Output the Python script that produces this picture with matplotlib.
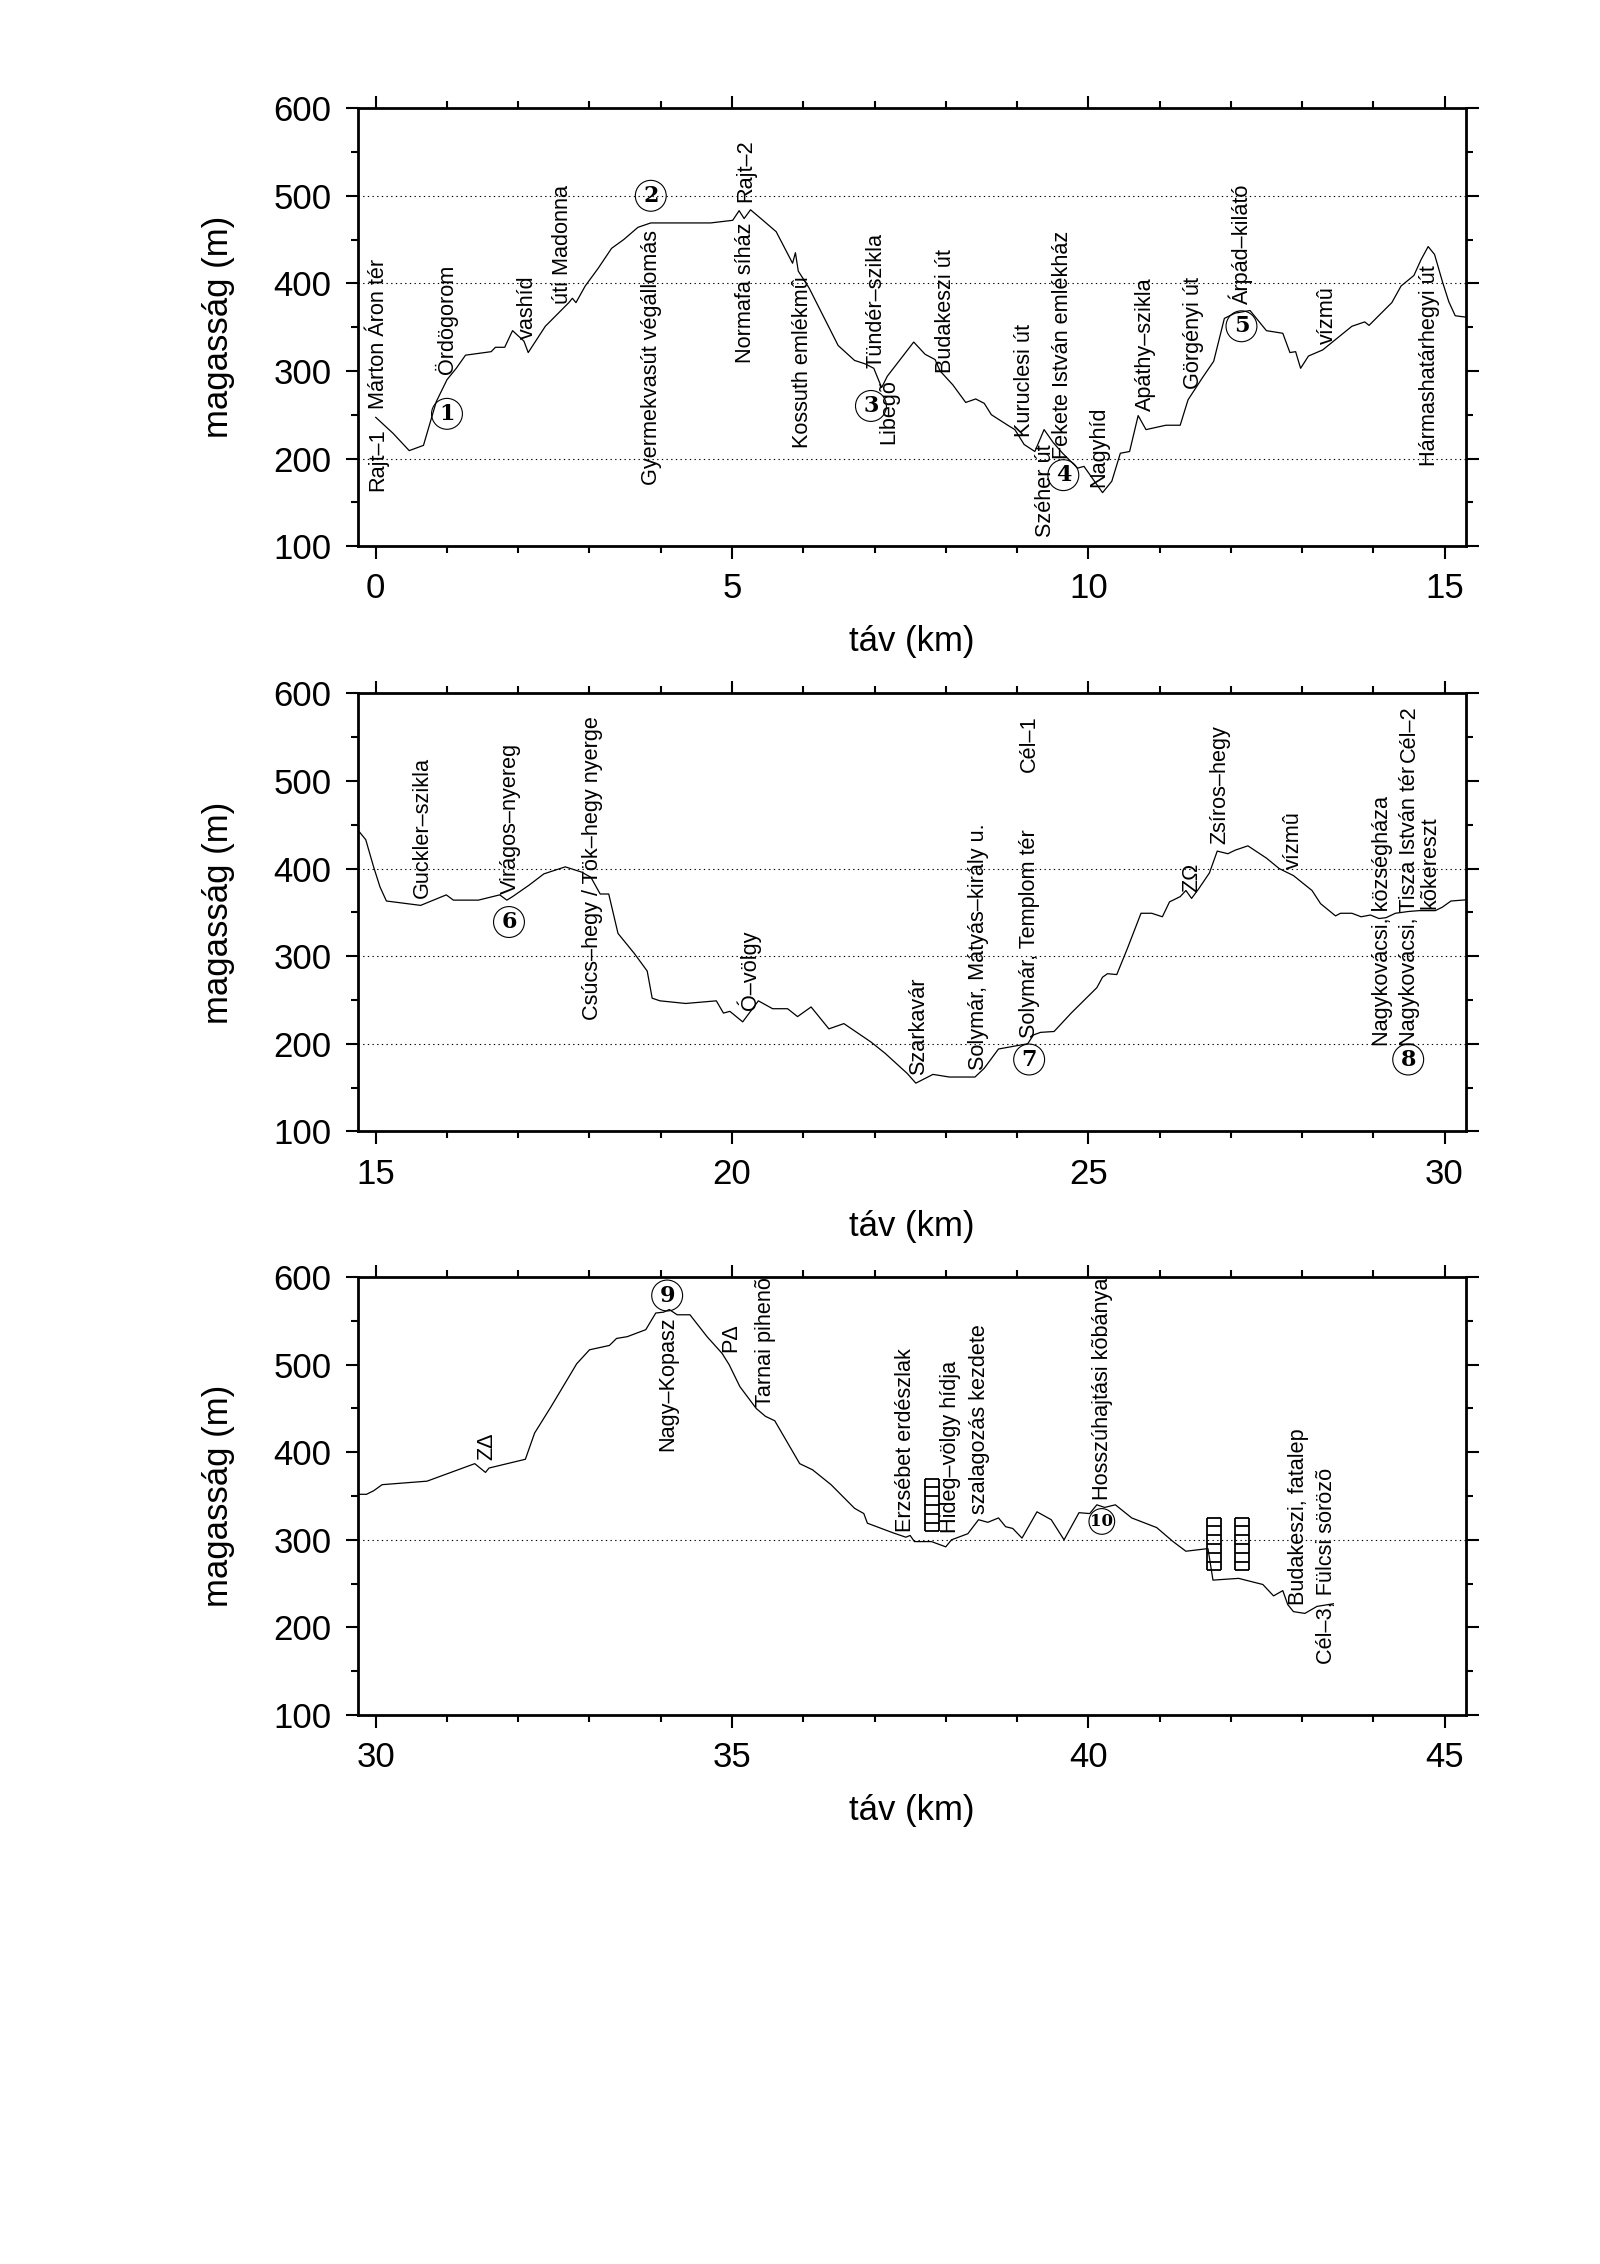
import numpy as np
import matplotlib
matplotlib.use('Agg')
import matplotlib.pyplot as plt
from matplotlib.path import Path
from matplotlib.ticker import MultipleLocator

plt.rcParams['font.family'] = ['Liberation Sans', 'DejaVu Sans']

# tav (km) / magassag (m) - the whole route, each panel shows a 15 km slice
dist = [0.00, 0.24, 0.47, 0.67, 0.85, 1.00, 1.13, 1.26, 1.62, 1.68, 1.81, 1.92, 2.08, 2.14,
        2.38, 2.71, 2.76, 2.81, 2.94, 3.12, 3.31, 3.48, 3.68, 3.86, 4.70, 5.01, 5.10, 5.17,
        5.26, 5.42, 5.62, 5.85, 5.89, 5.93, 6.08, 6.26, 6.49, 6.72, 6.87, 6.99, 7.10, 7.18,
        7.55, 7.71, 7.85, 7.92, 8.10, 8.28, 8.42, 8.54, 8.64, 8.87, 8.97, 9.10, 9.25, 9.38,
        9.51, 9.64, 9.85, 9.94, 10.07, 10.20, 10.33, 10.45, 10.58, 10.70, 10.81, 11.09, 11.29,
        11.40, 11.60, 11.76, 11.91, 12.06, 12.27, 12.50, 12.73, 12.83, 12.91, 12.98, 13.09,
        13.29, 13.70, 13.88, 13.94, 14.26, 14.39, 14.57, 14.67, 14.77, 14.86, 14.97, 15.06,
        15.15, 15.63, 15.99, 16.09, 16.44, 16.74, 16.84, 16.92, 17.15, 17.36, 17.51, 17.66,
        17.89, 18.02, 18.15, 18.27, 18.40, 18.63, 18.81, 18.88, 18.99, 19.35, 19.78, 19.88,
        19.97, 20.15, 20.37, 20.57, 20.78, 20.92, 21.11, 21.36, 21.57, 21.95, 22.15, 22.46,
        22.58, 22.82, 23.05, 23.41, 23.54, 23.74, 24.15, 24.23, 24.33, 24.52, 24.76, 25.12,
        25.20, 25.27, 25.40, 25.55, 25.74, 25.89, 26.04, 26.14, 26.29, 26.37, 26.45, 26.55,
        26.70, 26.81, 26.96, 27.06, 27.24, 27.50, 27.68, 27.88, 28.14, 28.26, 28.47, 28.54,
        28.70, 28.83, 28.96, 29.08, 29.18, 29.31, 29.49, 29.64, 29.87, 29.97, 30.09, 30.72,
        31.39, 31.54, 31.59, 32.10, 32.23, 32.46, 32.82, 33.00, 33.28, 33.38, 33.53, 33.79,
        33.93, 34.04, 34.12, 34.23, 34.41, 34.65, 34.86, 34.96, 35.11, 35.34, 35.47, 35.60,
        35.95, 36.13, 36.39, 36.72, 36.85, 36.90, 37.26, 37.44, 37.50, 37.56, 37.80, 38.00,
        38.08, 38.31, 38.46, 38.59, 38.74, 38.84, 38.94, 39.07, 39.28, 39.48, 39.66, 39.87,
        40.02, 40.12, 40.23, 40.38, 40.61, 40.96, 41.19, 41.37, 41.68, 41.75, 42.11, 42.45,
        42.60, 42.73, 42.80, 42.88, 43.04, 43.21, 43.44]
elev = [247, 229, 209, 215, 265, 290, 303, 318, 322, 327, 327, 346, 334, 321,
        351, 378, 383, 378, 397, 417, 440, 450, 464, 469, 469, 472, 483, 474,
        484, 473, 459, 423, 435, 414, 395, 366, 329, 312, 308, 303, 281, 294,
        333, 319, 313, 300, 284, 264, 268, 263, 250, 238, 233, 216, 208, 233,
        218, 206, 189, 191, 176, 161, 174, 206, 208, 249, 233, 238, 238,
        267, 292, 311, 360, 366, 369, 346, 343, 321, 322, 303, 317,
        324, 351, 356, 352, 378, 397, 409, 427, 442, 433, 402, 379,
        363, 358, 370, 364, 364, 370, 364, 368, 381, 394, 398, 402,
        396, 390, 371, 371, 326, 303, 283, 252, 249, 246, 249, 235,
        237, 225, 249, 240, 240, 231, 242, 217, 223, 202, 189, 166,
        155, 165, 162, 162, 172, 194, 200, 210, 213, 214, 235, 264,
        276, 280, 279, 309, 349, 349, 345, 362, 368, 375, 366, 377,
        395, 420, 417, 421, 426, 412, 400, 392, 375, 360, 346, 349,
        349, 345, 347, 343, 344, 349, 351, 352, 352, 356, 363, 367,
        387, 377, 382, 392, 422, 452, 501, 517, 522, 530, 532, 540,
        559, 560, 563, 557, 557, 532, 513, 500, 475, 450, 441, 436,
        387, 380, 363, 336, 330, 319, 308, 303, 305, 298, 298, 292,
        300, 307, 323, 320, 325, 315, 313, 302, 332, 323, 300, 331,
        330, 340, 337, 340, 325, 314, 298, 287, 290, 254, 256, 249,
        236, 242, 226, 218, 216, 224, 227]

# place names (text starts at km / m and runs upwards)
label_text = ['Rajt–1', 'Márton Áron tér', 'Ördögorom', 'vashíd', 'úti Madonna',
              'Gyermekvasút végállomás', 'Normafa síház', 'Rajt–2', 'Kossuth emlékmû',
              'Tündér–szikla', 'Libegõ', 'Budakeszi út', 'Kuruclesi út', 'Széher út',
              'Fekete István emlékház', 'Nagyhíd', 'Apáthy–szikla', 'Görgényi út',
              'Árpád–kilátó', 'vízmû', 'Hármashatárhegyi út',
              'Guckler–szikla', 'Virágos–nyereg', 'Csúcs–hegy / Tök–hegy nyerge', 'Ó–völgy',
              'Szarkavár', 'Solymár, Mátyás–király u.', 'Solymár, Templom tér', 'Cél–1',
              'ZΩ', 'Zsíros–hegy', 'vízmû', 'Nagykovácsi, községháza',
              'Nagykovácsi, Tisza István tér', 'Cél–2', 'kõkereszt',
              'ZΔ', 'Nagy–Kopasz', 'PΔ', 'Tarnai pihenõ', 'Erzsébet erdészlak',
              'Hideg–völgy hídja', 'szalagozás kezdete', 'Hosszúhajtási kõbánya',
              'Budakeszi, fatalep', 'Cél–3, Fülcsi sörözõ']
label_km = [0.11, 0.12, 1.08, 2.21, 2.70, 3.95, 5.27, 5.27, 6.07, 7.10, 7.28,
            8.07, 9.18, 9.48, 9.71, 10.23, 10.88, 11.56, 12.24, 13.43, 14.87,
            15.73, 16.97, 18.12, 20.34, 22.69, 23.54, 24.25, 24.25, 26.53, 26.93,
            27.96, 29.21, 29.59, 29.59, 29.87,
            31.63, 34.17, 35.06, 35.55, 37.51, 38.15, 38.55, 40.27, 43.03, 43.42]
label_m = [163, 256, 297, 336, 376, 170, 309, 493, 212, 303, 216,
           298, 224, 110, 199, 167, 254, 279, 376, 331, 191,
           367, 371, 227, 238, 164, 170, 206, 510, 373, 428,
           400, 198, 198, 522, 354,
           391, 401, 515, 452, 309, 308, 330, 346, 226, 158]

# frissitopontok (circled numbers)
circ_text = ['1', '2', '3', '4', '5', '6', '7', '8', '9', '10']
circ_km = [1.00, 3.86, 6.95, 9.65, 12.15, 16.87, 24.17, 29.49, 34.09, 40.19]
circ_m = [251, 500, 260, 181, 351, 339, 182, 182, 579, 321]

# letra jelek
ladder_km = [37.80, 41.76, 42.16]
ladder_m = [340, 295, 295]

panel_start = [0, 15, 30]
grid_levels = [[200, 400, 500], [200, 300, 400], [300]]
bottoms = [0.7588, 0.5003, 0.2425]

# ladder marker
verts, codes = [], []
hw = 0.14
for xr in (-hw, hw):
    verts += [(xr, -0.5), (xr, 0.5)]
    codes += [Path.MOVETO, Path.LINETO]
for yr in np.linspace(-0.5, 0.5, 7):
    verts += [(-hw, yr), (hw, yr)]
    codes += [Path.MOVETO, Path.LINETO]
ladder = Path(verts, codes)

fig = plt.figure(figsize=(16, 22.64), dpi=100)

for i, s in enumerate(panel_start):
    ax = fig.add_axes([0.2237, bottoms[i], 0.6925, 0.1934])
    lo, hi = s - 0.25, s + 15.3
    for g in grid_levels[i]:
        ax.axhline(g, color='k', lw=0.8, ls=(0, (1.2, 3)))
    ax.plot(dist, elev, color='k', lw=0.9)
    for t, x, y in zip(label_text, label_km, label_m):
        if s <= x < s + 15:
            ax.text(x, y, t, rotation=90, rotation_mode='anchor', ha='left',
                    va='baseline', fontsize=15.6)
    for t, x, y in zip(circ_text, circ_km, circ_m):
        if s <= x < s + 15:
            fs = 16 if len(t) == 1 else 12
            pad = 0.2 if len(t) == 1 else 0.08
            ax.text(x, y, t, ha='center', va='center', fontsize=fs,
                    family='DejaVu Serif', weight='bold',
                    bbox=dict(boxstyle='circle,pad=%.2f' % pad, fc='none', ec='k', lw=0.8))
    for x, y in zip(ladder_km, ladder_m):
        if s <= x < s + 15:
            ax.plot(x, y, marker=ladder, ms=38, color='k', mew=1.3, ls='none')
    ax.set_xlim(lo, hi)
    ax.set_ylim(100, 600)
    ax.xaxis.set_major_locator(MultipleLocator(5))
    ax.xaxis.set_minor_locator(MultipleLocator(1))
    ax.yaxis.set_major_locator(MultipleLocator(100))
    ax.yaxis.set_minor_locator(MultipleLocator(50))
    ax.tick_params(which='both', direction='out', top=True, right=True,
                   width=1.5, labelsize=25, pad=10)
    ax.tick_params(which='major', length=9)
    ax.tick_params(which='minor', length=5)
    for sp in ax.spines.values():
        sp.set_linewidth(2)
    ax.set_xlabel('táv (km)', fontsize=25, labelpad=14)
    ax.set_ylabel('magasság (m)', fontsize=25, labelpad=28)

fig.savefig('out.png', dpi=100)
